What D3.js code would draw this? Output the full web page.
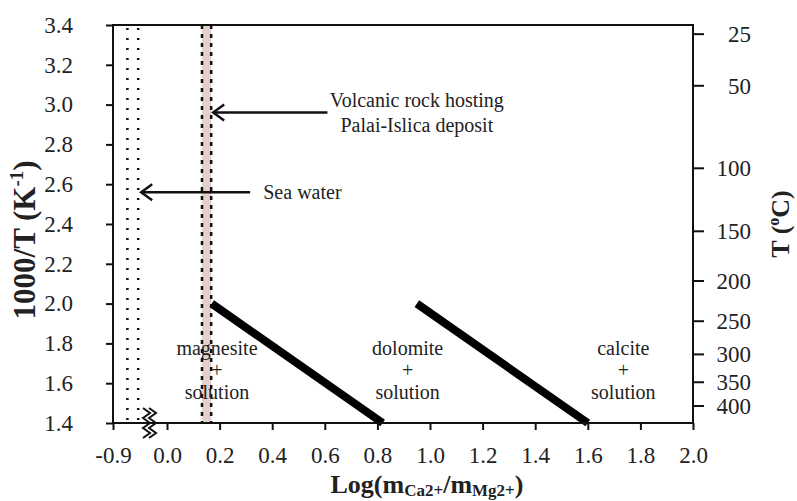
<!DOCTYPE html>
<html>
<head>
<meta charset="utf-8">
<script src="https://cdn.jsdelivr.net/npm/d3@7"></script>
<style>
  body { margin: 0; background: #fff; }
  text { font-family: 'Liberation Serif', 'Times New Roman', serif; fill: #222; }
</style>
</head>
<body>
<div id="chart"></div>
<script>
// data
const yTicks = [1.4, 1.6, 1.8, 2.0, 2.2, 2.4, 2.6, 2.8, 3.0, 3.2, 3.4]
const xTicks = [0.0, 0.2, 0.4, 0.6, 0.8, 1.0, 1.2, 1.4, 1.6, 1.8, 2.0]
const xBreakTicks = [-0.9]
const tempTicks = [25, 50, 100, 150, 200, 250, 300, 350, 400]
const seaWater = [-0.82, -0.76]
const volcanicBand = [0.133, 0.168]
const magnesiteDolomite = [[0.17, 2.0], [0.82, 1.4]]
const dolomiteCalcite = [[0.95, 2.0], [1.6, 1.4]]
const fieldNames = ['magnesite', 'dolomite', 'calcite']
const fieldX = [0.19, 0.915, 1.735]
const fieldY = 1.665

const width = 797
const height = 501
const pLeft = 113, pRight = 693, pTop = 25, pBottom = 423
const fmt = d => d.toFixed(1) // plain hyphen for -0.9

const svg = d3.select('#chart').append('svg')
  .attr('width', width)
  .attr('height', height)

// main x scale and the squeezed part left of the axis break
const x = d3.scaleLinear().domain([0, 2]).range([167, pRight])
const xBreak = d3.scaleLinear().domain([-0.9, -0.7]).range([pLeft, 149])
const y = d3.scaleLinear().domain([1.4, 3.4]).range([pBottom, pTop])
const tempY = t => y(1000 / (t + 273.15))

// volcanic rock band
svg.append('rect')
  .attr('x', x(volcanicBand[0]))
  .attr('y', pTop)
  .attr('width', x(volcanicBand[1]) - x(volcanicBand[0]))
  .attr('height', pBottom - pTop)
  .attr('fill', '#e3d0cc')

svg.selectAll('.volc')
  .data(volcanicBand)
  .enter().append('line')
  .attr('x1', d => x(d)).attr('x2', d => x(d))
  .attr('y1', pTop).attr('y2', pBottom)
  .attr('stroke', '#111')
  .attr('stroke-width', 2.5)
  .attr('stroke-dasharray', '4,5')

// sea water
svg.selectAll('.sea')
  .data(seaWater)
  .enter().append('line')
  .attr('x1', d => xBreak(d)).attr('x2', d => xBreak(d))
  .attr('y1', pTop + 3).attr('y2', pBottom)
  .attr('stroke', '#111')
  .attr('stroke-width', 2.5)
  .attr('stroke-dasharray', '2,8')

// phase boundaries
const line = d3.line().x(d => x(d[0])).y(d => y(d[1]))
svg.selectAll('.boundary')
  .data([magnesiteDolomite, dolomiteCalcite])
  .enter().append('path')
  .attr('d', line)
  .attr('stroke', '#000')
  .attr('stroke-width', 8)
  .attr('fill', 'none')

// frame
svg.append('path')
  .attr('d', `M${pLeft},${pTop}H${pRight}V${pBottom}H${pLeft}Z`)
  .attr('fill', 'none')
  .attr('stroke', '#111')
  .attr('stroke-width', 2)

// left axis
const yAxis = svg.append('g')
  .attr('transform', `translate(${pLeft},0)`)
  .call(d3.axisLeft(y).tickValues(yTicks).tickFormat(fmt).tickSize(7).tickPadding(33))
yAxis.select('.domain').remove()

// right axis, degrees C
const rAxis = svg.append('g')
  .attr('transform', `translate(${pRight},0)`)
rAxis.selectAll('line')
  .data(tempTicks)
  .enter().append('line')
  .attr('x1', 0).attr('x2', 11)
  .attr('y1', d => tempY(d)).attr('y2', d => tempY(d))
  .attr('stroke', '#111').attr('stroke-width', 2)
rAxis.selectAll('text')
  .data(tempTicks)
  .enter().append('text')
  .attr('x', 58)
  .attr('y', d => tempY(d))
  .attr('dy', '0.35em')
  .attr('text-anchor', 'end')
  .attr('font-size', 23)
  .text(d => d)

// bottom axis
const xAxis = svg.append('g')
  .attr('transform', `translate(0,${pBottom})`)
  .call(d3.axisBottom(x).tickValues(xTicks).tickFormat(fmt).tickSize(7).tickPadding(17))
xAxis.select('.domain').remove()
const xAxis2 = svg.append('g')
  .attr('transform', `translate(0,${pBottom})`)
  .call(d3.axisBottom(xBreak).tickValues(xBreakTicks).tickFormat(fmt).tickSize(7).tickPadding(17))
xAxis2.select('.domain').remove()

svg.selectAll('.tick line').attr('stroke', '#111').attr('stroke-width', 2)
svg.selectAll('.tick text')
  .attr('font-size', 23)
  .attr('font-family', "'Liberation Serif', serif")
  .attr('fill', '#222')

// axis break mark
const zig = d3.line()
;[0, 6].forEach(off => {
  const pts = d3.range(0, 7).map(i => [143 + off + (i % 2 ? 7 : 0), 408 + i * 5])
  svg.append('path')
    .attr('d', zig(pts))
    .attr('fill', 'none')
    .attr('stroke', '#111')
    .attr('stroke-width', 2)
})

// field labels
fieldNames.forEach((name, i) => {
  const cx = x(fieldX[i])
  const cy = y(fieldY)
  const g = svg.append('g').attr('text-anchor', 'middle').attr('font-size', 20)
  g.append('text').attr('x', cx).attr('y', cy - 22).attr('dy', '0.35em').text(name)
  g.append('text').attr('x', cx).attr('y', cy).attr('dy', '0.35em').text('+')
  g.append('text').attr('x', cx).attr('y', cy + 22).attr('dy', '0.35em').text('solution')
})

// arrows
function arrow(x1, x2, yy) {
  svg.append('line')
    .attr('x1', x1).attr('x2', x2).attr('y1', yy).attr('y2', yy)
    .attr('stroke', '#111').attr('stroke-width', 2.5)
  svg.append('path')
    .attr('d', `M${x1 + 11},${yy - 8}L${x1},${yy}L${x1 + 11},${yy + 8}`)
    .attr('fill', 'none').attr('stroke', '#111').attr('stroke-width', 2.5)
}

const seaY = y(2.56)
arrow(xBreak(seaWater[1]) + 3, x(0.316), seaY)
svg.append('text')
  .attr('x', x(0.366)).attr('y', seaY).attr('dy', '0.35em')
  .attr('font-size', 20)
  .text('Sea water')

const volcY = y(2.96)
arrow(x(volcanicBand[1]) + 2, x(0.61), volcY)
const vt = svg.append('text').attr('text-anchor', 'middle').attr('font-size', 20)
vt.append('tspan').attr('x', x(0.95)).attr('y', volcY - 6).text('Volcanic rock hosting')
vt.append('tspan').attr('x', x(0.95)).attr('y', volcY + 19).text('Palai-Islica deposit')

// axis titles
const yTitle = svg.append('text')
  .attr('transform', `translate(35,${y(2.32)}) rotate(-90)`)
  .attr('text-anchor', 'middle')
  .attr('font-size', 31)
  .attr('font-weight', 'bold')
yTitle.append('tspan').text('1000/T (K')
yTitle.append('tspan').attr('font-size', 19).attr('dy', -12).text('-1')
yTitle.append('tspan').attr('dy', 12).text(')')

const rTitle = svg.append('text')
  .attr('transform', `translate(789,${(pTop + pBottom) / 2}) rotate(-90)`)
  .attr('text-anchor', 'middle')
  .attr('font-size', 26)
  .attr('font-weight', 'bold')
rTitle.append('tspan').text('T (')
rTitle.append('tspan').attr('font-size', 16).attr('dy', -10).text('o')
rTitle.append('tspan').attr('dy', 10).text('C)')

const xTitle = svg.append('text')
  .attr('x', 427).attr('y', 493)
  .attr('text-anchor', 'middle')
  .attr('font-size', 26)
  .attr('font-weight', 'bold')
xTitle.append('tspan').text('Log(m')
xTitle.append('tspan').attr('font-size', 17).attr('dy', 3).text('Ca2+')
xTitle.append('tspan').attr('dy', -3).text('/m')
xTitle.append('tspan').attr('font-size', 17).attr('dy', 3).text('Mg2+')
xTitle.append('tspan').attr('dy', -3).text(')')
</script>
</body>
</html>
